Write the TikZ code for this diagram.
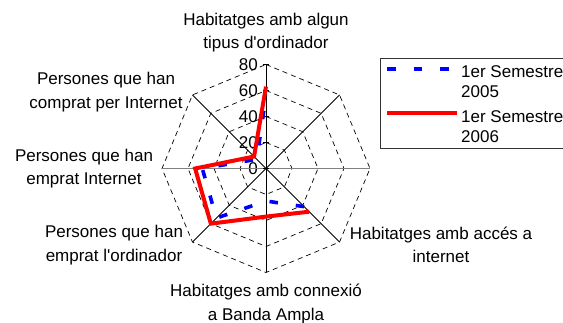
\documentclass[tikz,border=0pt]{standalone}
\usepackage{fontspec}
\setmainfont{Liberation Sans}
\begin{document}
\begin{tikzpicture}[x=1pt,y=1pt,
  lbl/.style={font=\fontsize{17}{23.3}\selectfont, align=center, inner sep=0pt},
  ticklbl/.style={font=\fontsize{17}{20}\selectfont, inner sep=0pt, anchor=east},
  legtxt/.style={font=\fontsize{17}{20}\selectfont, align=left, inner sep=0pt, anchor=west},
  gridline/.style={black, line width=0.7pt, dash pattern=on 5pt off 4pt},
  spoke/.style={black, line width=0.75pt},
  haxis/.style={black!50, line width=1.8pt},
  tickmark/.style={black, line width=0.75pt},
  redser/.style={red, line width=4pt},
  blueser/.style={blue, line width=3.6pt, dash pattern=on 8.5pt off 18pt},
  legbox/.style={black!80, line width=0.9pt}]
\useasboundingbox (0,0) rectangle (563,323);
\clip (0,0) rectangle (563,323);
\coordinate (O) at (266,154.5);
\begin{scope}[shift={(O)}]
  % vertices of the outer octagon
  \foreach \k/\a in {0/90,1/45,2/0,3/-45,4/-90,5/-135,6/180,7/135}
    \coordinate (v\k) at (\a:104);
  % dashed rings
  \foreach \r in {26,52,78,104}
    \draw[gridline] (90:\r) -- (45:\r) -- (0:\r) -- (-45:\r) -- (-90:\r) -- (-135:\r) -- (180:\r) -- (135:\r) -- cycle;
  % data points
  \coordinate (b0) at (90:{56*1.3});
  \coordinate (b3) at (-45:{41.5*1.3});
  \coordinate (b4) at (-90:{25*1.3});
  \coordinate (b5) at (-135:{54*1.3});
  \coordinate (b6) at (180:{49*1.3});
  \coordinate (b7) at (135:{10*1.3});
  \coordinate (r0) at (90:{63*1.3});
  \coordinate (r3) at (-45:{47*1.3});
  \coordinate (r4) at (-90:{37*1.3});
  \coordinate (r5) at (-135:{60*1.3});
  \coordinate (r6) at (180:{54.5*1.3});
  \coordinate (r7) at (135:{13*1.3});
  % tick positions
  \foreach \v in {0,20,40,60,80}{
    \coordinate (tl\v) at (-3,{\v*1.3});
    \coordinate (tr\v) at (3,{\v*1.3});
    \node[ticklbl] (t\v) at (-8,{\v*1.3}) {\v};
  }
\end{scope}
% spokes
\foreach \k in {0,1,3,4,5,7}
  \draw[spoke] (O) -- (v\k);
\draw[haxis] (v6) -- (v2);
\draw[spoke] (O) -- (v0);
\foreach \v in {0,20,40,60,80}
  \draw[tickmark] (tl\v) -- (tr\v);
% series
\draw[blueser] (b3) -- (b4) -- (b5) -- (b6) -- (b7) -- (b0);
\draw[redser] (r3) -- (r4) -- (r5) -- (r6) -- (r7) -- (r0);
% category labels
\node[lbl] (c0) at (266,290.6) {Habitatges amb algun\\tipus d\textquotesingle ordinador};
\node[lbl] (c7) at (106,231) {Persones que han\\comprat per Internet};
\node[lbl] (c6) at (84,154.6) {Persones que han\\emprat Internet};
\node[lbl] (c5) at (114,78) {Persones que han\\emprat l\textquotesingle ordinador};
\node[lbl] (c3) at (441,78) {Habitatges amb accés a\\internet};
\node[lbl] (c4) at (266,19.1) {Habitatges amb connexió\\a Banda Ampla};
% legend
\coordinate (lg1) at (380,174.7);
\coordinate (lg2) at (600,264.7);
\draw[legbox] (lg1) rectangle (lg2);
\coordinate (lb1) at (387,254);
\coordinate (lb2) at (457,254);
\coordinate (lr1) at (387,209.7);
\coordinate (lr2) at (457,209.7);
\draw[blueser] (lb1) -- (lb2);
\draw[redser] (lr1) -- (lr2);
\node[legtxt] (l1) at (461,241.3) {1er Semestre\\2005};
\node[legtxt] (l2) at (461,196.3) {1er Semestre\\2006};
\end{tikzpicture}
\end{document}
